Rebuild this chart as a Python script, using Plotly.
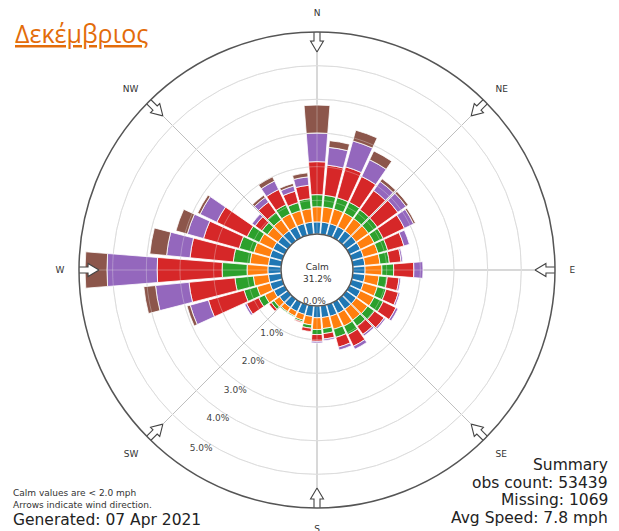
import math
import plotly.graph_objects as go

directions = [0, 10, 20, 30, 40, 50, 60, 70, 80, 90, 100, 110, 120, 130, 140, 150, 160, 170,
              180, 190, 200, 210, 220, 230, 240, 250, 260, 270, 280, 290, 300, 310, 320, 330, 340, 350]

speed_bins = ["2 - 5 mph", "5 - 7 mph", "7 - 10 mph", "10 - 15 mph", "15 - 20 mph", "20+ mph"]
bin_colors = ["#1f77b4", "#ff7f0e", "#2ca02c", "#d62728", "#9467bd", "#8c564b"]

blue   = [0.36, 0.36, 0.36, 0.36, 0.36, 0.36, 0.36, 0.36, 0.36, 0.36, 0.36, 0.36, 0.36, 0.36, 0.36, 0.36, 0.36, 0.35,
          0.35, 0.32, 0.30, 0.30, 0.30, 0.30, 0.35, 0.38, 0.38, 0.39, 0.38, 0.38, 0.38, 0.36, 0.36, 0.36, 0.36, 0.36]
orange = [0.45, 0.45, 0.45, 0.45, 0.45, 0.45, 0.45, 0.45, 0.45, 0.50, 0.42, 0.43, 0.45, 0.42, 0.40, 0.42, 0.40, 0.33,
          0.35, 0.25, 0.18, 0.15, 0.15, 0.20, 0.30, 0.40, 0.45, 0.62, 0.55, 0.50, 0.45, 0.38, 0.40, 0.42, 0.40, 0.40]
green  = [0.36, 0.35, 0.35, 0.35, 0.32, 0.32, 0.30, 0.30, 0.28, 0.35, 0.25, 0.27, 0.30, 0.25, 0.22, 0.28, 0.25, 0.15,
          0.15, 0.10, 0.05, 0.03, 0.03, 0.10, 0.20, 0.40, 0.55, 0.74, 0.50, 0.45, 0.40, 0.20, 0.27, 0.30, 0.25, 0.30]
red    = [0.98, 0.90, 0.95, 0.85, 0.70, 0.75, 0.70, 0.50, 0.35, 0.60, 0.35, 0.38, 0.42, 0.35, 0.30, 0.38, 0.30, 0.16,
          0.20, 0.10, 0.03, 0.00, 0.00, 0.08, 0.40, 1.10, 1.37, 1.93, 1.29, 1.10, 1.00, 0.25, 0.38, 0.50, 0.35, 0.40]
purple = [0.85, 0.53, 0.80, 0.55, 0.33, 0.30, 0.30, 0.17, 0.05, 0.27, 0.05, 0.05, 0.07, 0.05, 0.06, 0.10, 0.09, 0.05,
          0.05, 0.00, 0.00, 0.00, 0.00, 0.00, 0.06, 0.56, 1.00, 1.49, 0.70, 0.50, 0.55, 0.11, 0.17, 0.28, 0.16, 0.25]
brown  = [0.83, 0.20, 0.33, 0.29, 0.10, 0.08, 0.06, 0.00, 0.00, 0.00, 0.00, 0.00, 0.00, 0.00, 0.00, 0.00, 0.00, 0.00,
          0.00, 0.00, 0.00, 0.00, 0.00, 0.00, 0.00, 0.10, 0.35, 0.65, 0.50, 0.35, 0.08, 0.00, 0.08, 0.14, 0.08, 0.12]

series = [blue, orange, green, red, purple, brown]

compass_angles = [0, 45, 90, 135, 180, 225, 270, 315]
compass_labels = ["N", "NE", "E", "SE", "S", "SW", "W", "NW"]
radial_ticks = [0, 1, 2, 3, 4, 5]
radial_ticklabels = ["0.0%", "1.0%", "2.0%", "3.0%", "4.0%", "5.0%"]
radial_max = 6

calm_text = "Calm<br>31.2%"
title_text = "Δεκέμβριος"
notes_left = ["Calm values are < 2.0 mph", "Arrows indicate wind direction."]
generated_text = "Generated: 07 Apr 2021"
summary_lines = ["Summary", "obs count: 53439", "Missing: 1069", "Avg Speed: 7.8 mph"]

fig = go.Figure()
for name, vals, col in zip(speed_bins, series, bin_colors):
    fig.add_trace(go.Barpolar(
        r=vals, theta=directions, name=name, width=9,
        marker=dict(color=col, line=dict(color="white", width=0.8)),
        showlegend=False,
    ))

# faint grid drawn over the bars (as in the original, where the grid sits above the wedges)
overlay = "rgba(235,235,235,0.32)"
circle_theta = list(range(0, 361, 2))
for t in radial_ticks[1:]:
    fig.add_trace(go.Scatterpolar(
        r=[t] * len(circle_theta), theta=circle_theta, mode="lines",
        line=dict(color=overlay, width=1), showlegend=False, hoverinfo="skip",
    ))
for a in compass_angles:
    fig.add_trace(go.Scatterpolar(
        r=[0, radial_max], theta=[a, a], mode="lines",
        line=dict(color=overlay, width=1), showlegend=False, hoverinfo="skip",
    ))

# radial percentage labels (placed through the polar scale)
label_r = [t + 0.25 for t in radial_ticks]
label_r[0] = radial_ticks[0]
label_theta = [184] + [216 - 0.6 * i for i in range(1, len(radial_ticks))]
label_pos = ["top center"] + ["middle center"] * (len(radial_ticks) - 1)
fig.add_trace(go.Scatterpolar(
    r=label_r, theta=label_theta, mode="text", text=radial_ticklabels, textposition=label_pos,
    textfont=dict(size=9, color="#444", family="DejaVu Sans"),
    cliponaxis=False, showlegend=False, hoverinfo="skip",
))

# hollow direction arrows on the outer ring, pointing inward
W, H = 619, 531
cx, cy, R = 317, 270, 238
hole_px = 36
px_per_unit = (R - hole_px) / radial_max
tip_px, base_px, tail_px = 218, 229, 242
head_half, shaft_half = 6.5, 3.0


def to_r(px):
    return (px - hole_px) / px_per_unit


def half_deg(half_px, r_px):
    return math.degrees(half_px / r_px)


for a in compass_angles:
    hh = half_deg(head_half, base_px)
    sh_in = half_deg(shaft_half, base_px)
    sh_out = half_deg(shaft_half, tail_px)
    rs = [to_r(tip_px), to_r(base_px), to_r(base_px), to_r(tail_px), to_r(tail_px),
          to_r(base_px), to_r(base_px), to_r(tip_px)]
    ts = [a, a - hh, a - sh_in, a - sh_out, a + sh_out, a + sh_in, a + hh, a]
    fig.add_trace(go.Scatterpolar(
        r=rs, theta=ts, mode="lines", fill="toself", fillcolor="white",
        line=dict(color="#444", width=1.1), cliponaxis=False,
        showlegend=False, hoverinfo="skip",
    ))

fig.update_layout(
    width=W, height=H,
    margin=dict(l=0, r=0, t=0, b=0),
    paper_bgcolor="white",
    font=dict(family="DejaVu Sans", color="#333"),
    barmode="stack",
    polar=dict(
        domain=dict(x=[(cx - R) / W, (cx + R) / W], y=[(H - cy - R) / H, (H - cy + R) / H]),
        hole=hole_px / R,
        bgcolor="white",
        radialaxis=dict(
            range=[0, radial_max], tickvals=radial_ticks,
            showline=False, ticks="", showticklabels=False,
            gridcolor="#d6d6d6", gridwidth=1,
        ),
        angularaxis=dict(
            direction="clockwise", rotation=90,
            tickvals=compass_angles, ticktext=compass_labels,
            showline=True, linecolor="#555", linewidth=1.5,
            gridcolor="#aaaaaa", gridwidth=1,
            ticks="outside", ticklen=12, tickcolor="rgba(0,0,0,0)",
            tickfont=dict(size=9, color="#333"),
        ),
    ),
)

annotations = []
annotations.append(dict(x=cx / W, y=(H - 273) / H, xref="paper", yref="paper", text=calm_text,
                        showarrow=False, font=dict(size=9, color="#333"), align="center"))
annotations.append(dict(x=13 / W, y=(H - 33) / H, xref="paper", yref="paper", xanchor="left", yanchor="middle",
                        text="<u>" + title_text + "</u>", showarrow=False,
                        font=dict(family="Open Sans", size=25, color="#E36C0A")))
for i, t in enumerate(notes_left):
    annotations.append(dict(x=11 / W, y=(H - 493 - 12 * i) / H, xref="paper", yref="paper",
                            xanchor="left", yanchor="middle", text=t, showarrow=False,
                            font=dict(size=9, color="#333")))
annotations.append(dict(x=11 / W, y=(H - 520) / H, xref="paper", yref="paper", xanchor="left", yanchor="middle",
                        text=generated_text, showarrow=False, font=dict(size=15.5, color="#222")))
for i, t in enumerate(summary_lines):
    annotations.append(dict(x=610 / W, y=(H - 465 - 17.7 * i) / H, xref="paper", yref="paper",
                            xanchor="right", yanchor="middle", text=t, showarrow=False,
                            font=dict(size=15.5, color="#222")))
fig.update_layout(annotations=annotations)

fig.write_html("out.html", config={"displayModeBar": False},
               post_script="document.body.style.margin='0';document.body.style.overflow='hidden';")
